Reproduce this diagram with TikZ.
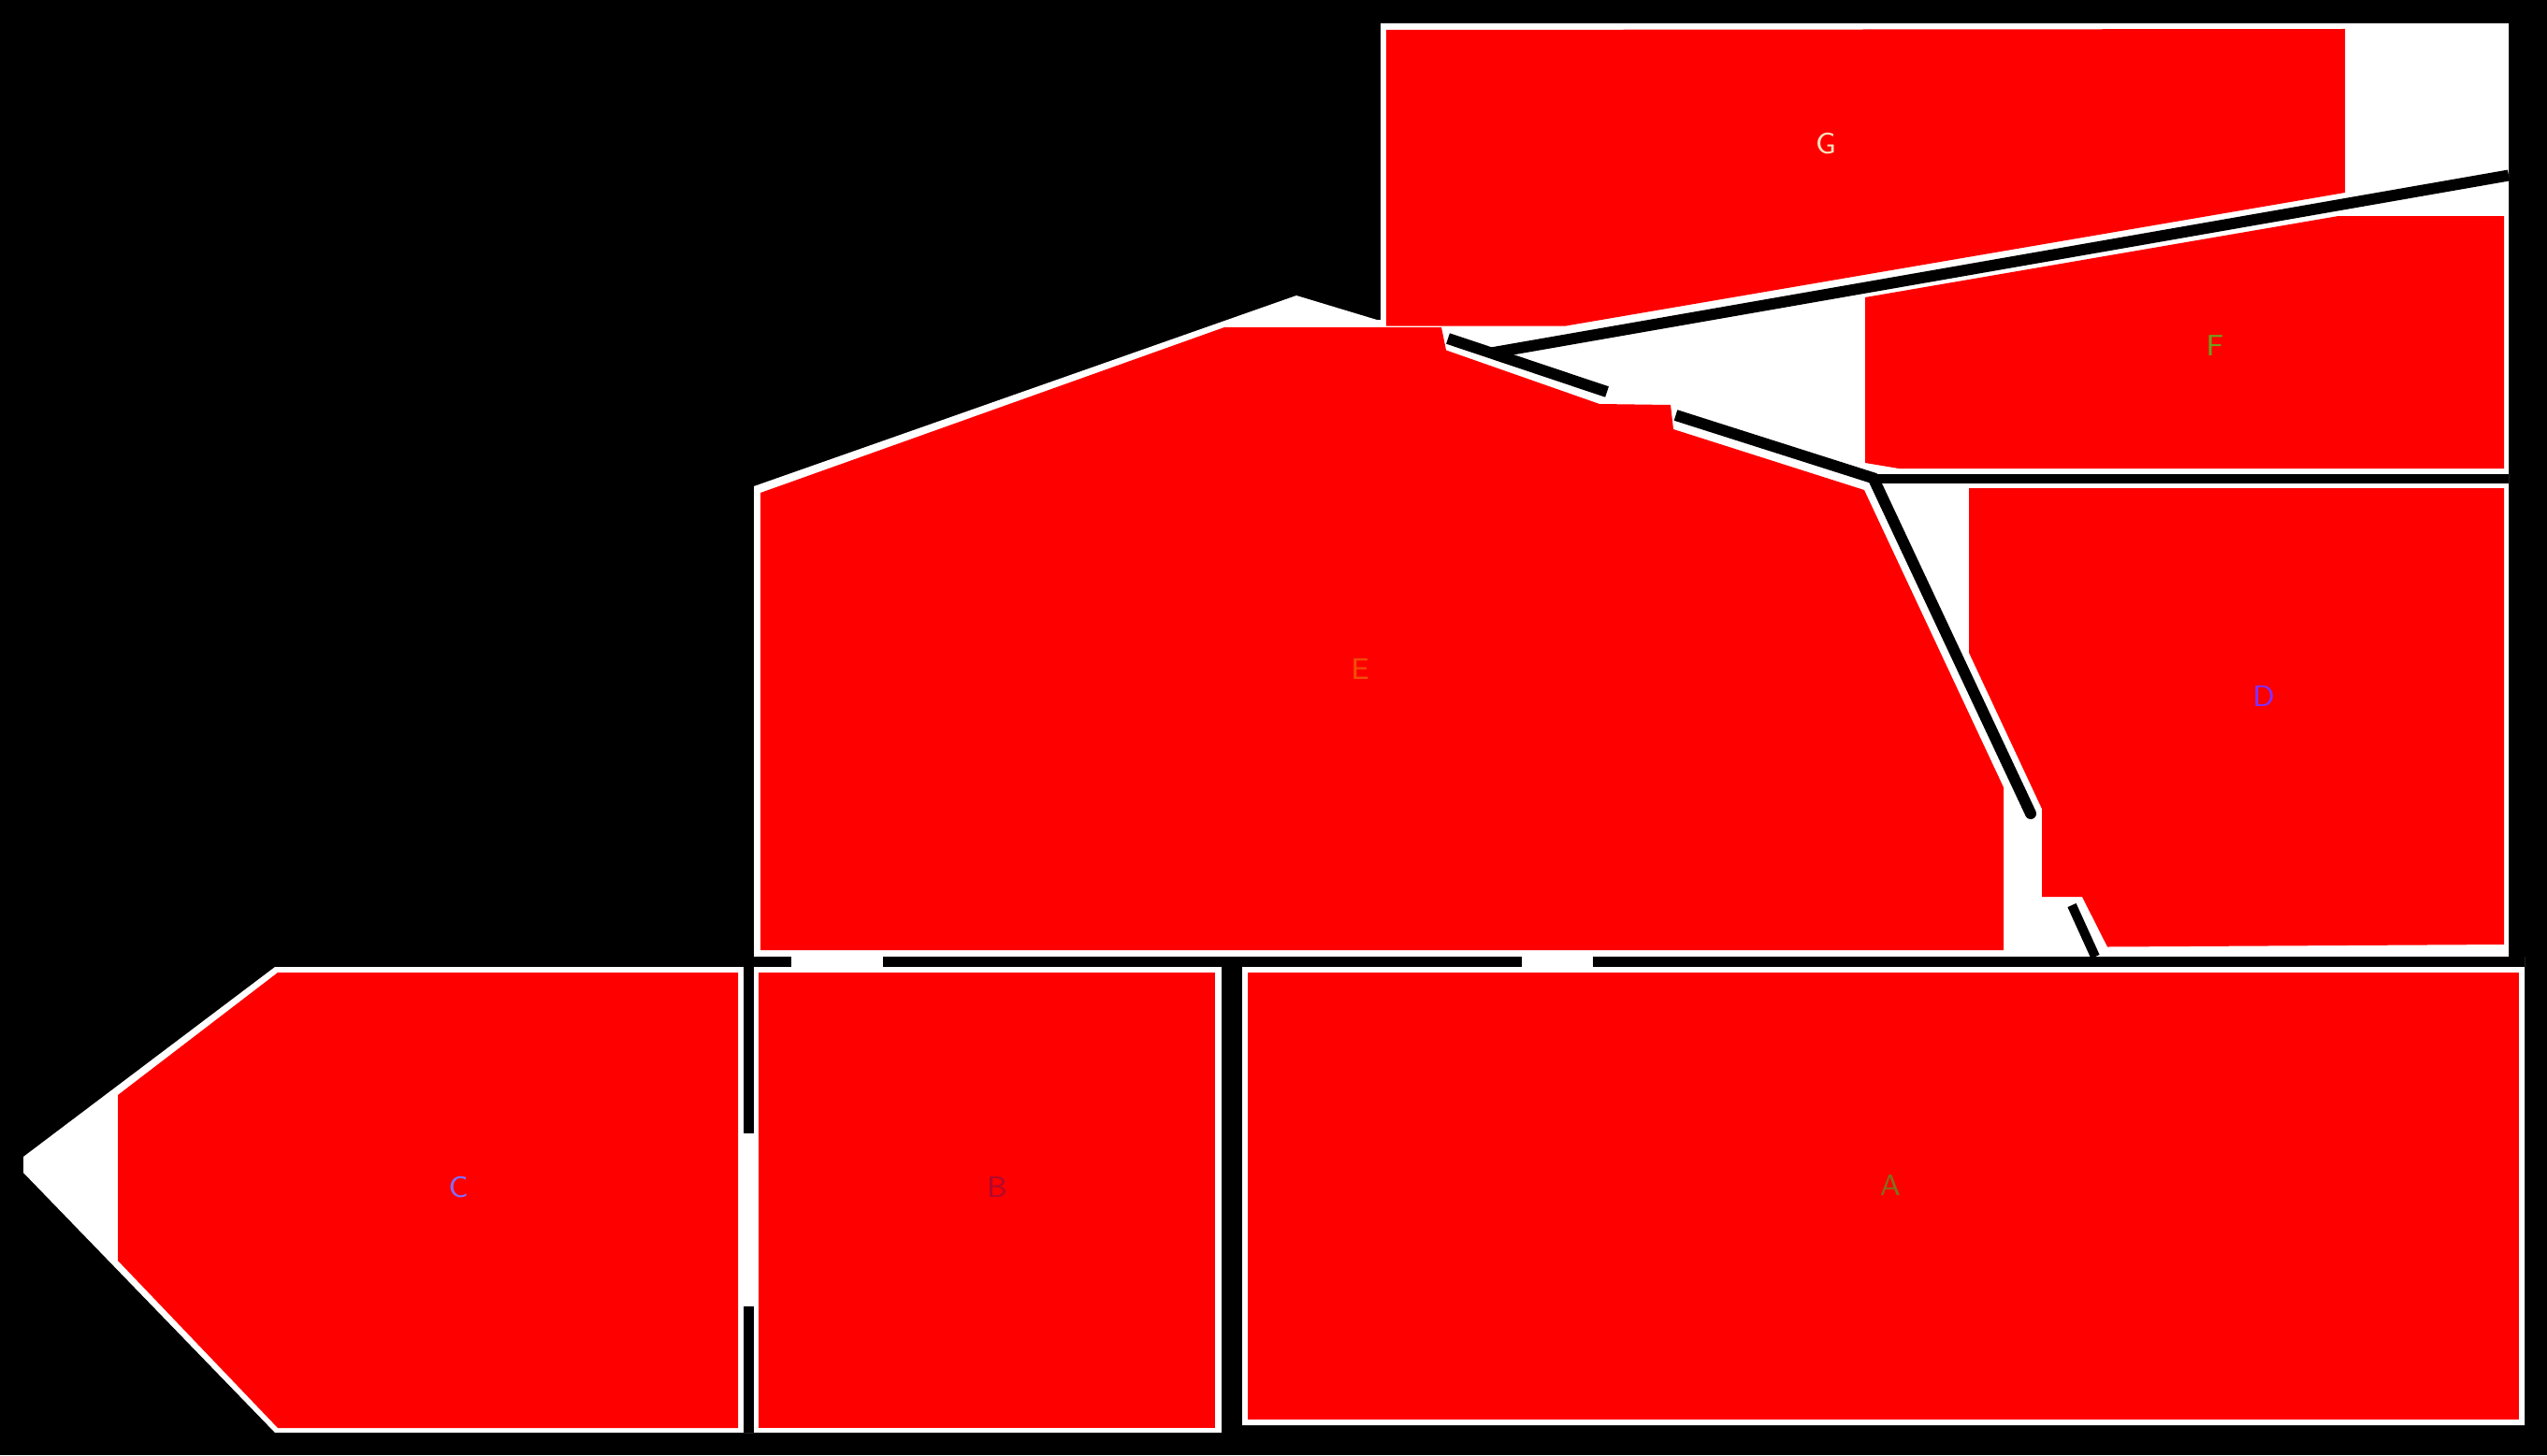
\documentclass[tikz,border=0pt]{standalone}
\usepackage{tikz}
\definecolor{roomred}{RGB}{255,0,0}
\definecolor{tagA}{RGB}{128,112,32}
\definecolor{tagB}{RGB}{175,10,45}
\definecolor{tagC}{RGB}{128,112,255}
\definecolor{tagD}{RGB}{128,48,255}
\definecolor{tagE}{RGB}{240,80,10}
\definecolor{tagF}{RGB}{110,160,30}
\definecolor{tagG}{RGB}{250,228,190}

\begin{document}
\begin{tikzpicture}[
    room/.style={fill=roomred},
    wall/.style={black, line width=0.12cm},
    tag/.style={font=\fontsize{9}{10}\selectfont\sffamily, inner sep=0pt}]

  % Frame 27.23 by 15.56: one unit is 100 px of the plan, y runs downwards.
  \useasboundingbox (0,-15.56) rectangle (27.23,0);
  \fill[black] (0,-15.56) rectangle (27.23,0);

  % The footprint of the building: everything white that no room covers.
  \fill[white] (0.25,-12.37) -- (2.94,-10.34) -- (8.06,-10.34) -- (8.06,-5.20)
    -- (13.86,-3.16) -- (14.72,-3.42) -- (14.76,-3.42) -- (14.76,-0.25)
    -- (26.82,-0.25) -- (26.82,-10.23) -- (26.99,-10.23) -- (26.99,-15.24)
    -- (13.06,-15.24) -- (13.06,-15.32) -- (2.94,-15.32) -- (0.25,-12.54) -- cycle;

  % Rooms, each set in a little from the walls.
  \fill[room] (13.34,-10.40) rectangle (26.93,-15.18);
  \fill[room] (8.11,-10.40) rectangle (12.99,-15.27);
  \fill[room] (2.97,-10.40) -- (7.89,-10.40) -- (7.89,-15.27) -- (2.97,-15.27)
    -- (1.26,-13.48) -- (1.26,-11.71) -- cycle;
  \fill[room] (21.05,-5.22) -- (26.77,-5.22) -- (26.77,-10.10) -- (22.53,-10.125)
    -- (22.26,-9.59) -- (21.83,-9.59) -- (21.83,-8.65) -- (21.05,-6.98) -- cycle;
  \fill[room] (8.13,-5.27) -- (13.09,-3.50) -- (15.41,-3.50) -- (15.46,-3.745)
    -- (17.10,-4.32) -- (17.86,-4.33) -- (17.89,-4.59) -- (19.93,-5.24)
    -- (21.42,-8.42) -- (21.42,-10.16) -- (8.13,-10.16) -- cycle;
  \fill[room] (19.94,-3.18) -- (25.00,-2.31) -- (26.77,-2.31) -- (26.77,-5.01)
    -- (20.30,-5.01) -- (19.94,-4.95) -- cycle;
  \fill[room] (14.82,-0.32) -- (25.07,-0.31) -- (25.07,-2.06) -- (16.74,-3.485)
    -- (14.82,-3.485) -- cycle;

  % Walls round E, F and D.
  \draw[wall] (15.48,-3.62) -- (17.18,-4.19);
  \draw[wall] (15.94,-3.775) -- (26.82,-1.875);
  \draw[wall] (17.915,-4.44) -- (20.05,-5.12);
  \draw[wall, line width=0.10cm] (20.03,-5.115) -- (26.82,-5.115);
  \draw[wall, line cap=round] (20.03,-5.12) -- (21.71,-8.70);
  \draw[wall, line width=0.10cm] (22.15,-9.68) -- (22.40,-10.23);

  % Long wall under E, broken by two doors.
  \foreach \xa/\xb in {8.06/8.46, 9.44/16.27, 17.03/26.99}
    \draw[wall, line width=0.11cm] (\xa,-10.285) -- (\xb,-10.285);

  % C|B with its door, and the thick B|A wall.
  \draw[wall, line width=0.11cm] (8.005,-10.23) -- (8.005,-12.12);
  \draw[wall, line width=0.11cm] (8.005,-13.97) -- (8.005,-15.32);
  \draw[wall, line width=0.22cm] (13.165,-10.23) -- (13.165,-15.32);

  % Room names.
  \node[tag, text=tagA] (nameA) at (20.21,-12.68) {A};
  \node[tag, text=tagB] (nameB) at (10.66,-12.70) {B};
  \node[tag, text=tagC] (nameC) at (4.90,-12.70) {C};
  \node[tag, text=tagD] (nameD) at (24.20,-7.45) {D};
  \node[tag, text=tagE] (nameE) at (14.54,-7.16) {E};
  \node[tag, text=tagF] (nameF) at (23.68,-3.70) {F};
  \node[tag, text=tagG] (nameG) at (19.52,-1.54) {G};

\end{tikzpicture}
\end{document}
